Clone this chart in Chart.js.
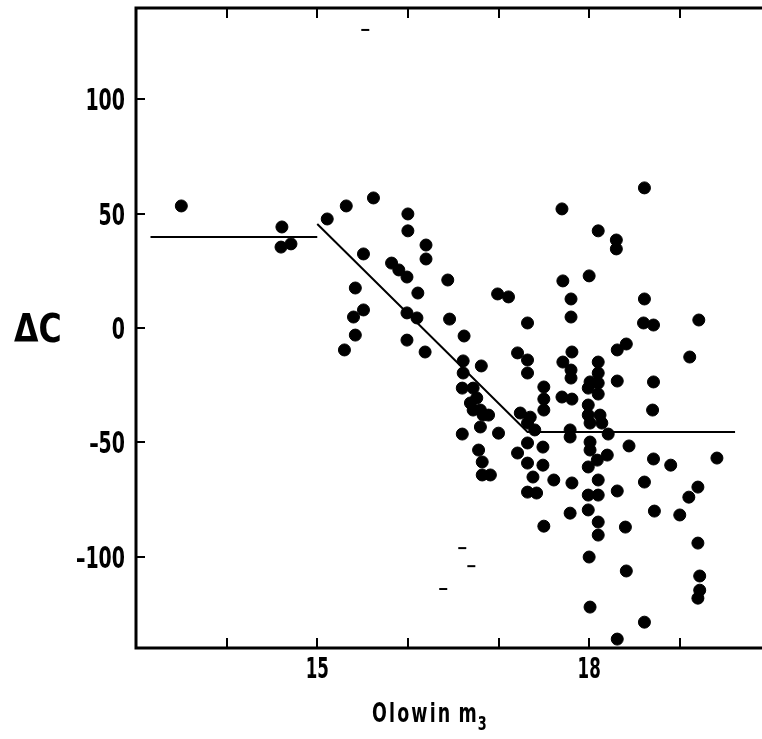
<!DOCTYPE html>
<html>
<head>
<meta charset="utf-8">
<script src="https://cdn.jsdelivr.net/npm/chart.js@4.4.1/dist/chart.umd.min.js"></script>
<style>
  html, body { margin: 0; padding: 0; background: #fff; }
  canvas { display: block; }
</style>
</head>
<body>
<canvas id="myChart" width="762" height="739"></canvas>
<script>
const FONT = "'DejaVu Sans Condensed', 'DejaVu Sans', sans-serif";

// measured points: Olowin m3 against delta C
const dotX = [
  13.50, 14.61, 14.60, 14.71, 15.11, 15.32, 15.62, 16.00, 16.00, 16.20,
  16.20, 15.51, 15.82, 15.90, 15.99, 16.11, 16.44, 15.42, 15.51, 15.40,
  15.42, 15.30, 15.99, 16.10, 16.46, 15.99, 16.19, 16.62, 16.99, 17.11,
  16.61, 16.81, 16.61, 16.60, 16.72, 16.69, 16.76, 16.80, 16.72, 16.83,
  16.89, 16.80, 16.60, 17.00, 16.78, 16.82, 16.82, 16.91, 17.21, 17.32,
  17.32, 17.32, 17.50, 17.50, 17.50, 17.24, 17.35, 17.32, 17.40, 17.32,
  17.49, 17.21, 17.32, 17.49, 17.38, 17.61, 17.81, 17.32, 17.42, 17.79,
  17.79, 17.79, 17.50, 17.81, 17.71, 17.80, 17.80, 17.70, 17.81, 18.10,
  18.10, 18.01, 18.10, 17.99, 18.10, 17.99, 17.99, 18.12, 18.01, 18.14,
  18.21, 18.01, 18.01, 18.20, 18.09, 17.99, 18.10, 18.31, 17.99, 18.10,
  17.99, 18.10, 18.10, 18.31, 18.41, 18.31, 18.71, 18.70, 18.44, 18.71,
  18.90, 19.41, 18.61, 19.20, 19.10, 18.72, 19.00, 18.40, 19.20, 18.00,
  18.41, 19.22, 19.22, 19.20, 18.01, 18.61, 18.31, 18.61, 17.70, 18.10,
  18.30, 18.30, 18.00, 17.71, 17.80, 17.80, 18.61, 18.60, 18.71, 19.21,
  19.11
];
const dotY = [
  53.4, 44.2, 35.4, 36.8, 47.7, 53.4, 56.9, 49.9, 42.5, 36.3,
  30.2, 32.4, 28.4, 25.4, 22.3, 15.3, 21.0, 17.5, 7.9, 4.8,
  -3.1, -9.6, 6.6, 4.4, 3.9, -5.3, -10.5, -3.5, 14.9, 13.6,
  -14.4, -16.6, -19.7, -26.3, -26.3, -32.8, -30.6, -35.9, -35.9, -38.1,
  -38.1, -43.3, -46.4, -46.0, -53.4, -58.6, -64.3, -64.3, -10.9, -14.0,
  -19.7, 2.2, -25.8, -31.1, -35.9, -37.2, -39.0, -41.6, -44.6, -50.3,
  -52.1, -54.7, -59.1, -60.0, -65.2, -66.5, -67.8, -71.8, -72.2, -44.6,
  -47.7, -81.0, -86.7, -10.5, -14.9, -18.4, -21.9, -30.2, -31.1, -14.9,
  -19.7, -23.6, -24.1, -26.3, -28.9, -33.7, -38.1, -38.1, -41.6, -41.6,
  -46.4, -49.9, -53.4, -55.6, -57.8, -60.8, -66.5, -71.3, -73.1, -73.1,
  -79.6, -84.9, -90.6, -9.6, -7.0, -23.2, -23.6, -35.9, -51.6, -57.3,
  -60.0, -56.9, -67.4, -69.6, -74.0, -80.1, -81.8, -87.1, -94.1, -100.2,
  -106.3, -108.5, -114.7, -118.2, -122.1, -128.7, -136.1, 61.3, 52.1, 42.5,
  38.5, 34.6, 22.8, 20.6, 12.7, 4.8, 12.7, 2.2, 1.3, 3.5,
  -12.7
];

// fitted line, in two pieces
const flatX = [13.16, 15.0];
const flatY = [39.8, 39.8];
const slopeX = [15.0, 17.32, 19.61];
const slopeY = [45.5, -45.5, -45.5];

// small stray dashes on the plate
const dashX = [15.53, 16.60, 16.70, 16.39];
const dashY = [130.4, -96.3, -104.2, -114.2];

const xTicks = [14, 15, 16, 17, 18, 19];
const xLabels = [15, 18];
const yTicks = [-100, -50, 0, 50, 100];

const toPoints = (xs, ys) => xs.map((x, i) => ({ x: x, y: ys[i] }));

// condensed bold text: squeeze the installed font to the plate's narrow face
function narrowText(ctx, str, x, base, size, squeeze, align) {
  ctx.font = 'bold ' + size + 'px ' + FONT;
  const w = ctx.measureText(str).width * squeeze;
  let left = x;
  if (align === 'right') left = x - w;
  if (align === 'center') left = x - w / 2;
  ctx.save();
  ctx.translate(left, base);
  ctx.scale(squeeze, 1);
  ctx.textAlign = 'left';
  ctx.textBaseline = 'alphabetic';
  ctx.fillText(str, 0, 0);
  ctx.restore();
  return w;
}

const zeroPad = s => { s.paddingTop = 0; s.paddingBottom = 0; s.paddingLeft = 0; s.paddingRight = 0; };

// axes frame, inward ticks, tick labels and titles
const frame = {
  id: 'frame',
  beforeDraw(chart) {
    const ctx = chart.ctx;
    ctx.save();
    ctx.fillStyle = '#fff';
    ctx.fillRect(0, 0, chart.width, chart.height);
    ctx.restore();
  },
  afterDraw(chart) {
    const ctx = chart.ctx;
    const a = chart.chartArea;
    const sx = chart.scales.x, sy = chart.scales.y;
    ctx.save();
    ctx.strokeStyle = '#000';
    ctx.lineWidth = 3;
    ctx.beginPath();
    ctx.moveTo(a.left, a.top - 1.5); ctx.lineTo(a.left, a.bottom + 1.5);
    ctx.moveTo(a.left, a.bottom); ctx.lineTo(chart.width, a.bottom);
    ctx.moveTo(a.left, a.top); ctx.lineTo(chart.width, a.top);
    ctx.stroke();

    ctx.lineWidth = 2;
    ctx.beginPath();
    xTicks.forEach(v => {
      const px = Math.round(sx.getPixelForValue(v));
      ctx.moveTo(px, a.bottom); ctx.lineTo(px, a.bottom - 10);
      ctx.moveTo(px, a.top); ctx.lineTo(px, a.top + 10);
    });
    yTicks.forEach(v => {
      const py = Math.round(sy.getPixelForValue(v));
      ctx.moveTo(a.left, py); ctx.lineTo(a.left + 9, py);
    });
    ctx.stroke();

    ctx.fillStyle = '#000';
    yTicks.forEach(v => {
      const txt = v < 0 ? '\u2013' + Math.abs(v) : String(v);
      narrowText(ctx, txt, a.left - 11, sy.getPixelForValue(v) + 11, 31, 0.68, 'right');
    });
    xLabels.forEach(v => {
      narrowText(ctx, String(v), sx.getPixelForValue(v), a.bottom + 30, 28, 0.66, 'center');
    });

    narrowText(ctx, 'ΔC', 14, sy.getPixelForValue(0) + 14, 39, 0.9, 'left');

    let cx = 372;
    ctx.save();
    ctx.letterSpacing = '3px';
    cx += narrowText(ctx, 'Olowin', cx, 722, 27, 0.72, 'left');
    ctx.restore();
    cx += 6;
    cx += narrowText(ctx, 'm', cx, 722, 27, 0.72, 'left');
    narrowText(ctx, '3', cx + 1, 730, 19, 0.75, 'left');
    ctx.restore();
  }
};

const ctx = document.getElementById('myChart');
new Chart(ctx, {
  type: 'scatter',
  data: {
    datasets: [
      {
        label: 'points',
        data: toPoints(dotX, dotY),
        pointRadius: 6,
        pointBorderWidth: 1,
        backgroundColor: '#000',
        borderColor: '#000'
      },
      {
        label: 'dashes',
        data: toPoints(dashX, dashY),
        pointStyle: 'line',
        pointRadius: 4,
        pointBorderWidth: 2,
        borderColor: '#000'
      },
      {
        label: 'flat',
        data: toPoints(flatX, flatY),
        showLine: true,
        pointRadius: 0,
        borderWidth: 2,
        borderColor: '#000'
      },
      {
        label: 'slope',
        data: toPoints(slopeX, slopeY),
        showLine: true,
        pointRadius: 0,
        borderWidth: 2,
        borderColor: '#000'
      }
    ]
  },
  options: {
    responsive: false,
    animation: false,
    layout: { padding: { top: 8, left: 0, right: 0, bottom: 0 } },
    plugins: {
      legend: { display: false },
      tooltip: { enabled: false }
    },
    scales: {
      x: {
        type: 'linear',
        position: 'bottom',
        bounds: 'data',
        min: 13,
        max: 19.83,
        grid: { display: false },
        border: { display: false },
        ticks: { display: false },
        afterBuildTicks: s => { s.ticks = xTicks.map(v => ({ value: v })); },
        afterFit: s => { s.height = 91; zeroPad(s); }
      },
      y: {
        type: 'linear',
        bounds: 'data',
        min: -140,
        max: 140,
        grid: { display: false },
        border: { display: false },
        ticks: { display: false },
        afterBuildTicks: s => { s.ticks = yTicks.map(v => ({ value: v })); },
        afterFit: s => { s.width = 136; zeroPad(s); }
      }
    }
  },
  plugins: [frame]
});
</script>
</body>
</html>
